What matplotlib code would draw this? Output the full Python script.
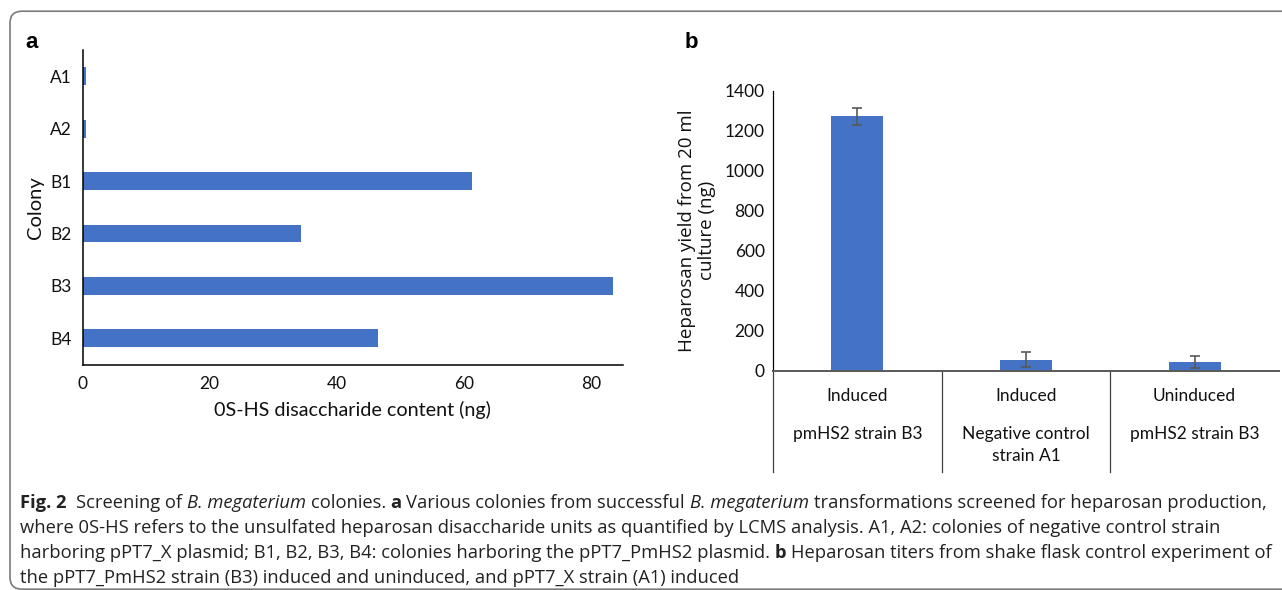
import matplotlib
matplotlib.use("Agg")
import matplotlib.pyplot as plt
import matplotlib.transforms as mtransforms
from matplotlib.patches import FancyBboxPatch

# panel a: 0S-HS disaccharide content per colony
colonies = ['A1', 'A2', 'B1', 'B2', 'B3', 'B4']
content_ng = [0.5, 0.5, 61.2, 34.3, 83.4, 46.4]

# panel b: heparosan yield from 20 ml culture
induction = ['Induced', 'Induced', 'Uninduced']
strains = ['pmHS2 strain B3', 'Negative control\nstrain A1', 'pmHS2 strain B3']
yield_ng = [1273, 55, 46]
yield_err = [43, 38, 30]

# caption lines as (text, style) runs
caption_lines = [
    [('Fig. 2', 'bold'), ('Screening of', 'normal'), ('B. megaterium', 'italic'),
     ('colonies.', 'normal'), ('a', 'bold'), ('Various colonies from successful', 'normal'),
     ('B. megaterium', 'italic'),
     ('transformations screened for heparosan production,', 'normal')],
    [('where 0S-HS refers to the unsulfated heparosan disaccharide units as quantified '
      'by LCMS analysis. A1, A2: colonies of negative control strain', 'normal')],
    [('harboring pPT7_X plasmid; B1, B2, B3, B4: colonies harboring the pPT7_PmHS2 plasmid.',
      'normal'), ('b', 'bold'),
     ('Heparosan titers from shake flask control experiment of', 'normal')],
    [('the pPT7_PmHS2 strain (B3) induced and uninduced, and pPT7_X strain (A1) induced',
      'normal')],
]

W, H = 1282, 590
BAR = '#4472C4'
TXT = '#111111'
chart_font = ['Lato', 'DejaVu Sans']
cap_font = ['Open Sans', 'DejaVu Sans']

plt.rcParams['font.family'] = chart_font

fig = plt.figure(figsize=(W / 100, H / 100), dpi=100)
fig.patch.set_facecolor('white')


def px_box(left, top, right, bottom):
    return [left / W, 1 - bottom / H, (right - left) / W, (bottom - top) / H]


# ---- panel a ----
ax1 = fig.add_axes(px_box(82.5, 50, 623, 364.5))
ypos = list(range(len(colonies)))
ax1.barh(ypos, content_ng, height=0.34, color=BAR)
ax1.set_ylim(len(colonies) - 0.5, -0.5)
ax1.set_xlim(0, 85)
ax1.set_yticks(ypos)
ax1.set_yticklabels(colonies)
ax1.set_xticks([0, 20, 40, 60, 80])
ax1.tick_params(length=0, labelsize=12.5, colors=TXT, pad=8)
for s in ['top', 'right']:
    ax1.spines[s].set_visible(False)
for s in ['left', 'bottom']:
    ax1.spines[s].set_color('#000000')
    ax1.spines[s].set_linewidth(1.1)
ax1.set_xlabel('0S-HS disaccharide content (ng)', fontsize=14.2, color=TXT, labelpad=7)
ax1.set_ylabel('Colony', fontsize=14.5, color=TXT, labelpad=4)

# ---- panel b ----
ax2 = fig.add_axes(px_box(773, 90.7, 1279, 370.7))
xpos = list(range(len(induction)))
ax2.bar(xpos, yield_ng, width=0.31, color=BAR)
ax2.errorbar(xpos, yield_ng, yerr=yield_err, fmt='none', ecolor='#595959',
             elinewidth=1.2, capsize=3.5, capthick=1.2)
ax2.set_xlim(-0.5, len(induction) - 0.5)
ax2.set_ylim(0, 1400)
ax2.set_yticks(range(0, 1401, 200))
ax2.set_xticks([])
ax2.tick_params(length=0, labelsize=12.5, colors=TXT, pad=6)
for s in ['top', 'right']:
    ax2.spines[s].set_visible(False)
ax2.spines['left'].set_color('#000000')
ax2.spines['left'].set_linewidth(0.9)
ax2.spines['bottom'].set_color('#595959')
ax2.spines['bottom'].set_linewidth(1.4)
ax2.set_ylabel('Heparosan yield from 20 ml\nculture (ng)', fontsize=13.5,
               color=TXT, labelpad=6, family=['Open Sans', 'DejaVu Sans'],
               linespacing=1.15)

# two-level category axis below the bars
trans = mtransforms.blended_transform_factory(ax2.transData, ax2.transAxes)
depth = (472 - 370.7) / 280.0
for b in [-0.5, 0.5, 1.5]:
    ax2.plot([b, b], [0, -depth], color='#404040', lw=0.9, transform=trans,
             clip_on=False)
for i, (lvl1, lvl2) in enumerate(zip(induction, strains)):
    ax2.text(i, -(396 - 370.7) / 280, lvl1, transform=trans, ha='center',
             va='center', fontsize=12.5, color=TXT)
    ax2.text(i, -(426 - 370.7) / 280, lvl2, transform=trans, ha='center',
             va='top', fontsize=12.5, color=TXT, linespacing=1.45)

# panel letters
fig.text(25 / W, 1 - 42 / H, 'a', fontsize=16, fontweight='bold',
         family=['Liberation Sans', 'DejaVu Sans'], va='center', ha='left')
fig.text(685 / W, 1 - 42 / H, 'b', fontsize=16, fontweight='bold',
         family=['Liberation Sans', 'DejaVu Sans'], va='center', ha='left')

# caption, laid out run by run
renderer = fig.canvas.get_renderer()
cap_size = 13.2


def text_width(s, weight='normal', style='normal'):
    t = fig.text(0, 0, s, fontsize=cap_size, family=cap_font,
                 fontweight=weight, fontstyle=style)
    w = t.get_window_extent(renderer).width
    t.remove()
    return w


space_w = text_width('x x') - text_width('xx')
line_y = [503, 528, 553, 578]
for y, runs in zip(line_y, caption_lines):
    x = 20
    for k, (s, kind) in enumerate(runs):
        weight = 'bold' if kind == 'bold' else 'normal'
        style = 'italic' if kind == 'italic' else 'normal'
        t = fig.text(x / W, 1 - y / H, s, fontsize=cap_size, family=cap_font,
                     fontweight=weight, fontstyle=style, color='#222222',
                     ha='left', va='center')
        x += t.get_window_extent(renderer).width
        x += space_w * (2 if s == 'Fig. 2' else 1)

# rounded frame around the figure
frame = FancyBboxPatch((10, 0.8), 1300, 578, boxstyle='round,pad=0,rounding_size=12',
                       transform=mtransforms.IdentityTransform(), facecolor='none',
                       edgecolor='#7a7a7a', lw=1.2)
fig.patches.append(frame)

fig.savefig('out.png', dpi=100)
